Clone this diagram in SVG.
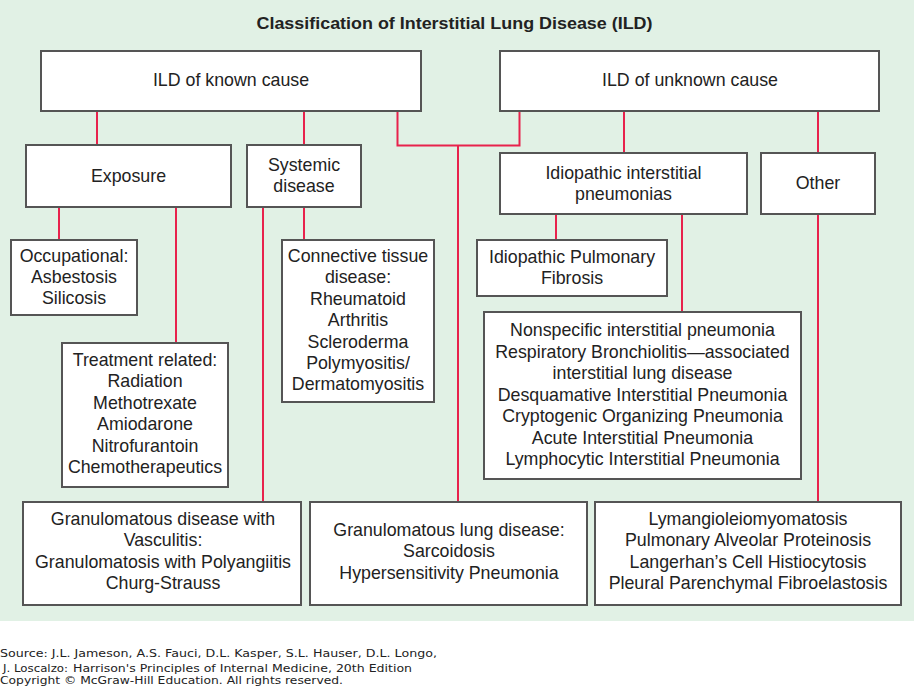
<svg xmlns="http://www.w3.org/2000/svg" width="914" height="688" viewBox="0 0 914 688">
<style>
.bg{fill:#e1f1e5}
.box rect{fill:#fff;stroke:#555;stroke-width:2}
.box text{font-family:"Liberation Sans",Arial,sans-serif;font-size:17.8px;fill:#222;text-anchor:middle}
.title{font-family:"Liberation Sans",Arial,sans-serif;font-size:17px;font-weight:bold;fill:#222;text-anchor:middle}
#connectors path{fill:none;stroke:#e8224c;stroke-width:2}
.foot{font-family:"DejaVu Sans",Verdana,sans-serif;font-size:11px;fill:#222}
</style>
<rect class="bg" x="0" y="0" width="914" height="621"/>
<text class="title" x="454.5" y="28.5" textLength="396" lengthAdjust="spacingAndGlyphs">Classification of Interstitial Lung Disease (ILD)</text>
<g id="connectors">
<path d="M97 111V145"/>
<path d="M304 111V145"/>
<path d="M397.5 111V145.5H519.5V111"/>
<path d="M458 145.5V502"/>
<path d="M624 111V153"/>
<path d="M818 111V153"/>
<path d="M59 207V240"/>
<path d="M176 207V343"/>
<path d="M263 207V502"/>
<path d="M304 207V240"/>
<path d="M556 214V240"/>
<path d="M682 214V312"/>
<path d="M818 214V502"/>
</g>
<g id="known" class="box"><rect x="41" y="51" width="380" height="60"/><text x="231" y="86">ILD of known cause</text></g>
<g id="unknown" class="box"><rect x="500" y="51" width="379" height="60"/><text x="690" y="86">ILD of unknown cause</text></g>
<g id="exposure" class="box"><rect x="26" y="145" width="205" height="62"/><text x="128.5" y="182">Exposure</text></g>
<g id="systemic" class="box"><rect x="247" y="145" width="114" height="62"/><text x="304" y="171">Systemic</text><text x="304" y="192">disease</text></g>
<g id="iip" class="box"><rect x="500" y="153" width="247" height="61"/><text x="623.5" y="178.5">Idiopathic interstitial</text><text x="623.5" y="199.5">pneumonias</text></g>
<g id="other" class="box"><rect x="761" y="153" width="114" height="61"/><text x="818" y="189">Other</text></g>
<g id="occupational" class="box"><rect x="11" y="240" width="126" height="75"/><text x="74" y="262">Occupational:</text><text x="74" y="283">Asbestosis</text><text x="74" y="304">Silicosis</text></g>
<g id="connective" class="box"><rect x="282" y="240" width="152" height="162"/><text x="358" y="262">Connective tissue</text><text x="358" y="283.4">disease:</text><text x="358" y="304.8">Rheumatoid</text><text x="358" y="326.2">Arthritis</text><text x="358" y="347.6">Scleroderma</text><text x="358" y="369">Polymyositis/</text><text x="358" y="390.4">Dermatomyositis</text></g>
<g id="ipf" class="box"><rect x="477" y="240" width="190" height="56"/><text x="572" y="263">Idiopathic Pulmonary</text><text x="572" y="284">Fibrosis</text></g>
<g id="nonspecific" class="box"><rect x="484" y="312" width="317" height="167"/><text x="642.5" y="336">Nonspecific interstitial pneumonia</text><text x="642.5" y="357.5">Respiratory Bronchiolitis—associated</text><text x="642.5" y="379">interstitial lung disease</text><text x="642.5" y="400.5">Desquamative Interstitial Pneumonia</text><text x="642.5" y="422">Cryptogenic Organizing Pneumonia</text><text x="642.5" y="443.5">Acute Interstitial Pneumonia</text><text x="642.5" y="465">Lymphocytic Interstitial Pneumonia</text></g>
<g id="treatment" class="box"><rect x="62" y="343" width="166" height="144"/><text x="145" y="365.7">Treatment related:</text><text x="145" y="387.2">Radiation</text><text x="145" y="408.7">Methotrexate</text><text x="145" y="430.2">Amiodarone</text><text x="145" y="451.7">Nitrofurantoin</text><text x="145" y="473.2">Chemotherapeutics</text></g>
<g id="granvasc" class="box"><rect x="23" y="502" width="278" height="103"/><text x="163" y="524.5">Granulomatous disease with</text><text x="163" y="546">Vasculitis:</text><text x="163" y="567.5">Granulomatosis with Polyangiitis</text><text x="163" y="589">Churg-Strauss</text></g>
<g id="granlung" class="box"><rect x="310" y="502" width="277" height="103"/><text x="449" y="535.5">Granulomatous lung disease:</text><text x="449" y="557">Sarcoidosis</text><text x="449" y="578.5">Hypersensitivity Pneumonia</text></g>
<g id="otherlist" class="box"><rect x="595" y="502" width="306" height="103"/><text x="748" y="524.5">Lymangioleiomyomatosis</text><text x="748" y="546">Pulmonary Alveolar Proteinosis</text><text x="748" y="567.5">Langerhan’s Cell Histiocytosis</text><text x="748" y="589">Pleural Parenchymal Fibroelastosis</text></g>
<text class="foot" x="0" y="657" textLength="437" lengthAdjust="spacingAndGlyphs">Source: J.L. Jameson, A.S. Fauci, D.L. Kasper, S.L. Hauser, D.L. Longo,</text>
<text class="foot" x="3" y="671.5" textLength="65" lengthAdjust="spacingAndGlyphs">J. Loscalzo:</text>
<text class="foot" x="73" y="672" textLength="339" lengthAdjust="spacingAndGlyphs">Harrison's Principles of Internal Medicine, 20th Edition</text>
<text class="foot" x="0" y="684" textLength="343" lengthAdjust="spacingAndGlyphs">Copyright © McGraw-Hill Education. All rights reserved.</text>
</svg>
